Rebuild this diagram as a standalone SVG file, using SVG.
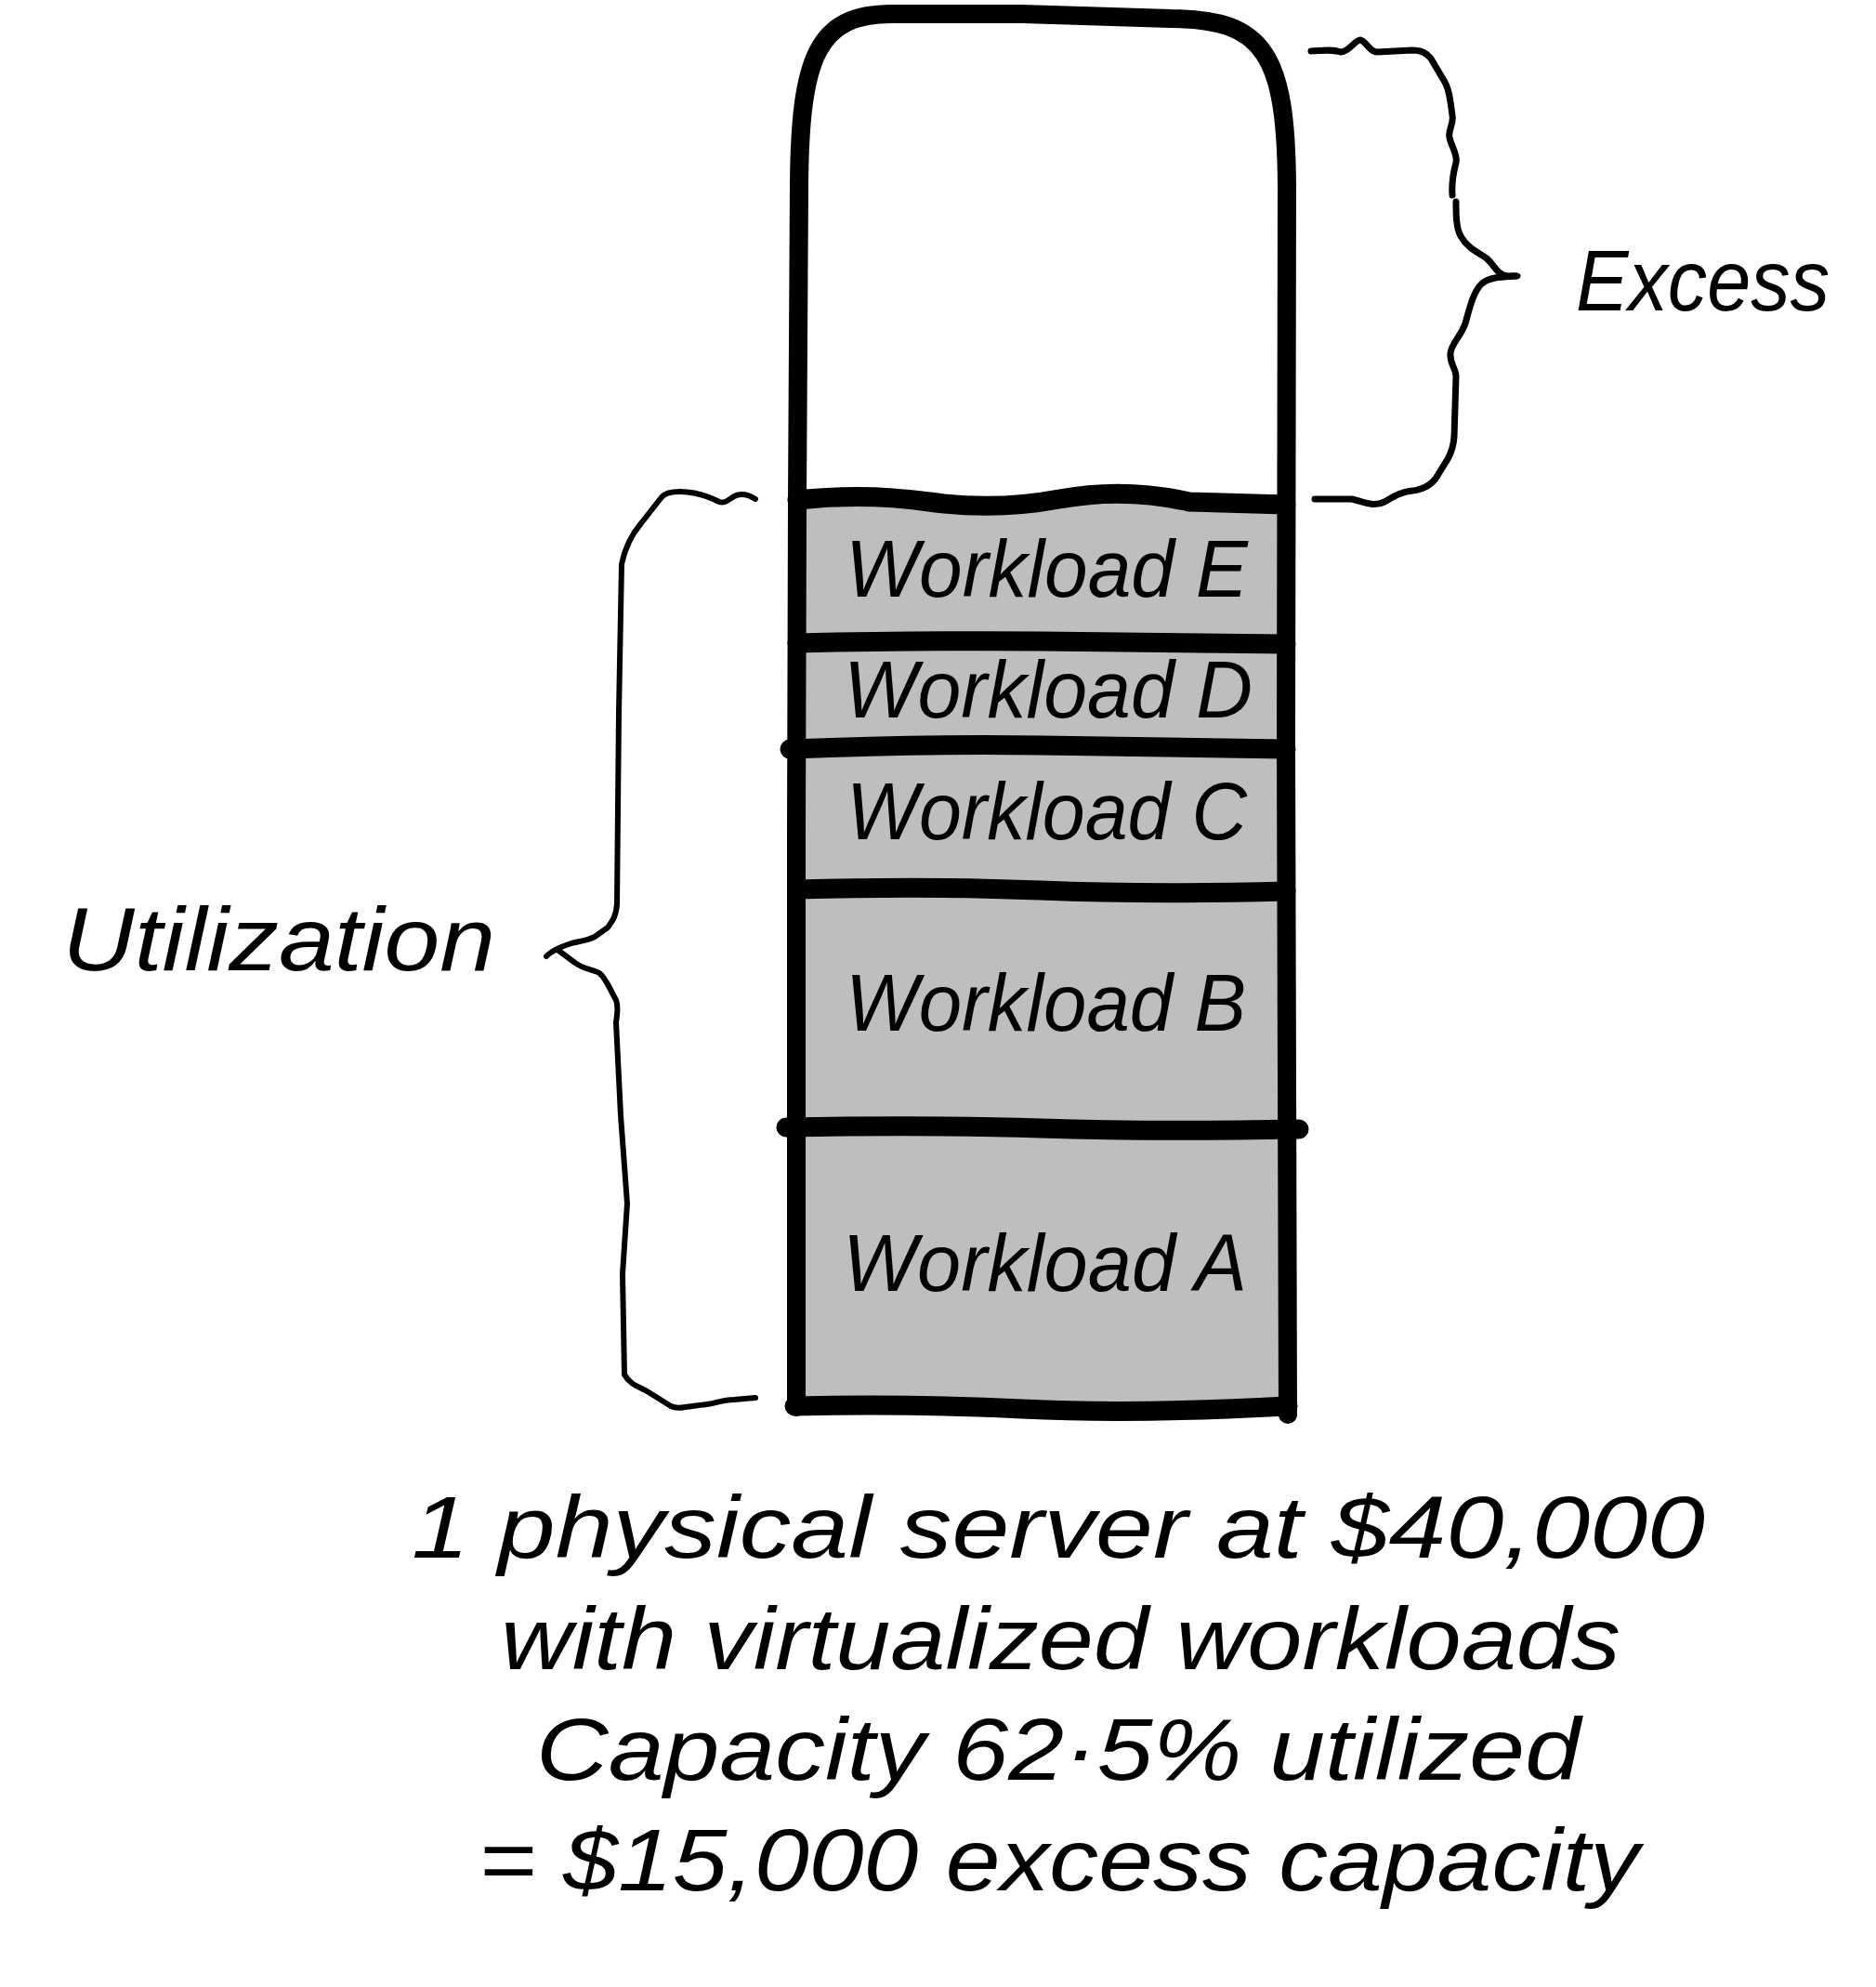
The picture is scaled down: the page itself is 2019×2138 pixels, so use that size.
<svg xmlns="http://www.w3.org/2000/svg" width="2019" height="2138" viewBox="0 0 2019 2138">
<style>
.box{fill:none;stroke:#000;stroke-width:20;stroke-linecap:round;stroke-linejoin:round}
.div{fill:none;stroke:#000;stroke-width:21;stroke-linecap:round;stroke-linejoin:round}
.cell{fill:#bebebe;stroke:none}
.brace{fill:none;stroke:#000;stroke-linecap:round;stroke-linejoin:round}
.lbl{font-family:"Liberation Sans",Arial,sans-serif;font-style:italic;fill:#000}
</style>
<rect width="2019" height="2138" fill="#fff"/>

<g id="excess-area">
<path d="M858,539 L860,200 C861,60 880,15 960,15 L1100,15 L1260,20 C1362,20 1384,60 1385,200 L1384,542 Z" fill="#fff" stroke="none"/>
</g>

<g id="workload-e">
<path class="cell" d="M858,539 Q930,532 1000,540 T1140,538 T1280,541 L1384,543 L1384,692 L858,692 Z"/>
<text class="lbl" x="910" y="642" font-size="88" textLength="433" lengthAdjust="spacingAndGlyphs">Workload E</text>
</g>
<g id="workload-d">
<path class="cell" d="M858,692 L1384,692 L1384,805 L858,805 Z"/>
<text class="lbl" x="908" y="772" font-size="88" textLength="440" lengthAdjust="spacingAndGlyphs">Workload D</text>
</g>
<g id="workload-c">
<path class="cell" d="M858,805 L1384,805 L1384,958 L858,958 Z"/>
<text class="lbl" x="911" y="903" font-size="88" textLength="431" lengthAdjust="spacingAndGlyphs">Workload C</text>
</g>
<g id="workload-b">
<path class="cell" d="M858,958 L1384,958 L1384,1215 L858,1215 Z"/>
<text class="lbl" x="910" y="1109" font-size="88" textLength="431" lengthAdjust="spacingAndGlyphs">Workload B</text>
</g>
<g id="workload-a">
<path class="cell" d="M858,1215 L1384,1215 L1384,1514 L858,1514 Z"/>
<text class="lbl" x="907" y="1389" font-size="88" textLength="435" lengthAdjust="spacingAndGlyphs">Workload A</text>
</g>

<g id="server-outline">
<path class="box" d="M857,1514 L857,900 L858,540 L860,200 C861,60 880,15 960,15 L1100,15 L1260,20 C1362,20 1384,60 1385,200 L1384,800 L1386,1522"/>
<path class="div" d="M858,538 Q930,530 1000,540 T1140,537 T1280,540 L1384,543"/>
<path class="div" d="M858,692 Q1000,689 1120,690 T1384,693"/>
<path class="div" d="M850,806 Q1000,800 1120,802 T1384,806"/>
<path class="div" d="M858,957 Q1000,953 1120,958 T1384,959"/>
<path class="div" d="M846,1213 Q1000,1210 1120,1214 T1398,1215"/>
<path class="div" d="M855,1513 Q980,1510 1100,1516 T1386,1513"/>
</g>

<g id="connectors">
<path class="brace" stroke-width="7" d="M1411,55 C1425,54 1435,53 1443,56 C1452,56 1458,43 1464,43 C1470,44 1474,56 1482,56 L1520,54 C1530,54 1535,57 1540,63 L1553,85 C1560,95 1561,110 1563,124 C1565,133 1558,140 1560,148 C1562,158 1569,166 1567,175 C1564,186 1562,195 1563,210"/>
<path class="brace" stroke-width="7" d="M1567,217 C1567,230 1567,245 1572,254 C1580,268 1592,272 1600,278 C1608,285 1610,293 1618,296 C1622,298 1630,296 1633,297 C1620,298 1605,297 1595,305 C1586,313 1582,330 1577,348 C1572,362 1562,370 1561,380 C1560,392 1567,396 1567,405 L1565,470 C1564,484 1560,490 1558,494 L1545,515 C1538,524 1530,527 1520,528 C1508,529 1500,534 1490,540 C1478,546 1468,540 1455,537 L1415,537"/>
<path class="brace" stroke-width="6" d="M813,537 C805,532 798,530 790,534 C784,538 780,542 774,540 C766,536 750,529 732,529 C722,529 715,531 712,535 L690,563 C680,575 672,592 669,607 L666,767 L664,973 C663,985 660,990 654,998 L640,1008 C630,1013 620,1013 612,1016 C600,1020 592,1025 588,1029 M600,1022 L619,1036 C628,1043 638,1043 645,1047 C652,1052 656,1064 663,1076 C666,1084 664,1092 663,1100 L668,1200 L675,1295 L670,1371 L672,1479 C678,1490 688,1492 698,1498 L722,1513 C730,1517 740,1513 761,1511 C770,1510 778,1506 790,1506 L813,1504"/>
</g>

<g id="labels">
<text class="lbl" x="1696" y="334" font-size="92" textLength="273" lengthAdjust="spacingAndGlyphs">Excess</text>
<text class="lbl" x="67" y="1044" font-size="96" textLength="466" lengthAdjust="spacingAndGlyphs">Utilization</text>
<text class="lbl" x="443" y="1676" font-size="94" textLength="1392" lengthAdjust="spacingAndGlyphs">1 physical server at $40,000</text>
<text class="lbl" x="539" y="1796" font-size="94" textLength="1205" lengthAdjust="spacingAndGlyphs">with virtualized workloads</text>
<text class="lbl" x="577" y="1915" font-size="94" textLength="1124" lengthAdjust="spacingAndGlyphs">Capacity 62·5% utilized</text>
<text class="lbl" x="515" y="2034" font-size="94" textLength="1249" lengthAdjust="spacingAndGlyphs">= $15,000 excess capacity</text>
</g>
</svg>
